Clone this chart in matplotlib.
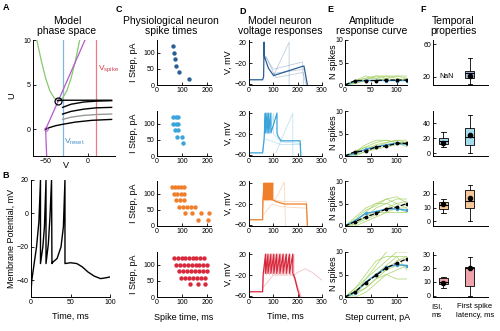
import matplotlib.pyplot as plt

plt.rcParams['font.family'] = ['Liberation Sans', 'DejaVu Sans']

# tamano de la figura en pixeles
W, H = 500, 331

# colores de cada fila (una neurona por fila)
colores = ['#2b5f94', '#3ba4da', '#ef7f2a', '#d8283b']
rellenos = ['#a9b3d3', '#a5dbeb', '#f6c79b', '#eda2ac']
verde = '#a3d160'

# ---------- A: espacio de fase ----------
nulclina_v_V = [-61, -55, -50, -45, -40, -35, -30, -25, -20, -15, -9.5]
nulclina_v_U = [10.2, 7.6, 5.7, 4.3, 3.5, 3.2, 3.5, 4.3, 5.7, 7.6, 10.1]
nulclina_u_V = [-48.8, -49.5, -50, -35, -3.5]
nulclina_u_U = [-3, -1.5, 0, 3.2, 10]
tray_V = [[-50, -45, -38, -30, -15, 5, 28],
          [-30, -20, -5, 10, 28],
          [-30, -20, -5, 10, 28],
          [-30, -20, -5, 10, 28],
          [-36, -30, -10, 10, 28]]
tray_U = [[0, 0.2, 0.4, 0.55, 0.8, 1.0, 1.1],
          [1.1, 1.35, 1.55, 1.65, 1.7],
          [1.7, 2.0, 2.25, 2.4, 2.45],
          [2.45, 2.8, 3.05, 3.15, 3.2],
          [3.2, 3.25, 3.25, 3.25, 3.25]]
tray_color = ['k', '#999999', 'k', 'k', 'k']
v_reset = -30
v_spike = 10

# ---------- B: potencial de membrana ----------
b_t = [0, 0.3, 1, 4, 7, 10, 12, 12, 15, 17, 19, 19, 22, 24, 26, 26.5,
       28, 33, 38, 41, 43, 43, 50, 58, 65, 72, 80, 88, 95, 100]
b_v = [-50, -45, -40, -30, -20, -5, 20, -30, -20, -8, 20, -30, -18, -2, 20, -30,
       -29, -27, -20, -8, 20, -30, -29.5, -30, -32, -35, -37.5, -39, -38.5, -38]

# ---------- C: tiempos de disparo fisiologicos ----------
c_corrientes = [120, 100, 80, 60, 40, 20]
c_tiempos = [
    [[65], [69], [72], [74], [88], [126]],
    [[65, 74, 85], [65, 74, 85], [72, 85], [81, 101], [105], []],
    [[59, 71, 83, 96, 108], [66, 80, 94, 108], [76, 92, 108],
     [87, 103, 120, 136, 152], [110, 138, 177, 207], [163, 204]],
    [[69, 84, 98, 113, 127, 142, 157, 171, 186],
     [76, 92, 107, 123, 138, 154, 169, 185, 200],
     [86, 102, 119, 135, 151, 168, 184, 200],
     [94, 111, 127, 144, 160, 177, 193],
     [131, 163, 193], []],
]

# ---------- D: respuestas de voltaje del modelo ----------
# (puntos antes, tiempos de pico, valle, puntos despues)
d_principal = [
    ([(0, -52), (56, -52), (60, -46)], [62], -5,
     [(68, -14), (80, -30), (101, -44), (222, -26), (226, -26), (240, -62)]),
    ([(0, -56), (56, -56), (62, -30)], [67, 74, 81, 90, 115], -18,
     [(120, -25), (132, -33), (210, -33), (213, -62)]),
    ([(0, -50), (56, -50), (57, -12)], [62, 67, 72, 77, 82, 87, 92, 97], -12,
     [(115, -16), (146, -20), (236, -20), (240, -62)]),
    ([(0, -52), (56, -52), (58, -20)], [68, 78, 90, 102, 114, 127, 140, 153, 166, 180], -17,
     [(188, -25), (198, -45), (209, -62)]),
]
d_tenues = [
    [([(100, -45)], [165], -62, []),
     ([(64, -5), (100, -32), (220, -18)], [], 0, [(225, -62)]),
     ([(100, -40), (222, -32)], [], 0, []),
     ([(70, -8), (110, -48), (222, -38)], [], 0, [(235, -62)])],
    [([(110, -56)], [180], -62, []),
     ([(56, -56), (60, -40)], [76, 84, 101], -20, [(130, -35), (210, -38), (214, -62)]),
     ([(70, -30), (130, -40), (210, -40)], [], 0, [])],
    [([(56, -30), (62, -10)], [66, 72, 78, 85, 92, 100], -14, [(110, -10), (145, 22), (150, -62)]),
     ([(97, -12), (140, -15), (236, -15)], [], 0, [(240, -62)]),
     ([(60, -40), (95, -20), (130, -25), (236, -28)], [], 0, [])],
    [([(56, -45), (60, -22)], [72, 84, 96, 108, 120, 132, 144, 156, 170, 185], -20,
      [(200, -15), (230, -8), (260, -15), (300, -30)]),
     ([(185, -20)], [], 0, [(215, -62)]),
     ([(56, -45), (100, -20), (180, -20)], [], 0, [(200, -45)])],
]

# ---------- E: curvas de respuesta ----------
e_corriente = [0, 20, 40, 60, 80, 100, 120]
e_modelo = [[0, 1, 1, 1, 1.1, 1.1, 1.1],
            [0, 1, 1.1, 2, 2.2, 2.8, 2.8],
            [0, 1, 2, 2.8, 3.8, 4.2, 5],
            [0, 1.2, 3.2, 4.8, 6.5, 7.5, 8.5]]
e_fisio = [[0, 0.8, 1, 1, 1, 1, 1],
           [0, 0.6, 1.5, 2, 2.5, 2.8, 2.6],
           [0, 1.2, 2.8, 3.2, 3.8, 3.8, 3.5],
           [0, 1, 3.3, 5, 6.6, 7.2, 7]]
e_verdes = [
    [[0, 1, 1.5, 2, 1.5, 1, 1.5], [0, 0.5, 1, 1, 1.5, 2, 2], [0, 1, 2, 1.5, 1, 1, 1],
     [0, 0.3, 1, 2, 2, 1.5, 1], [0, 1, 1, 1, 1, 1, 1], [0, 0.5, 1.5, 1.5, 2, 2, 1.5]],
    [[0, 0.5, 1.5, 2.5, 3, 3.5, 3], [0, 1, 2, 3, 3.5, 3, 2], [0, 0.3, 1, 2, 3, 3.5, 3.5],
     [0, 1, 2, 2, 2.5, 3, 3], [0, 0, 1, 1.5, 2, 2.5, 3], [0, 1, 2.5, 3.5, 3.5, 3, 3]],
    [[0, 1, 3, 5, 6, 5, 4], [0, 2, 4, 5, 5, 4, 3], [0, 0.5, 2, 4, 5, 6, 6],
     [0, 1, 2, 3, 3, 3, 3], [0, 0, 1, 2, 3, 4, 4], [0, 1.5, 3.5, 4.5, 6, 6.5, 5],
     [0, 0.5, 1.5, 2.5, 4, 5, 5.5]],
    [[0, 1, 4, 7, 10, 11, 10], [0, 2, 5, 8, 9, 9, 6], [0, 0.5, 2, 4, 6, 8, 9],
     [0, 1, 3, 5, 6, 7, 7], [0, 0, 1, 3, 5, 6, 7], [0, 2, 4, 6, 8, 10, 10],
     [0, 1, 2, 4, 5, 4, 4], [0, 1.5, 3, 5, 7, 9, 9]],
]

# ---------- F: propiedades temporales ----------
# [q1, mediana, q3, bigote bajo, bigote alto, media]; None = NaN
f_isi = [None,
         [12, 16, 19.6, 7.6, 28, 13.7],
         [8.9, 11.8, 14.3, 6.4, 16.3, 12.6],
         [8.6, 9.8, 12.6, 5.5, 13.8, 9]]
f_latencia = [[18.4, 25.2, 27.6, 11.5, 43, 21.6],
              [10.7, 21, 33, 0.4, 50.7, 24],
              [9.4, 14.6, 23.2, 0, 26.7, 16.8],
              [7, 20.5, 21, 0, 28, 20.5]]
f_ylim = [(10, 65), (-4, 56), (-3.5, 29.5), (-1, 32)]
f_yticks = [[20, 60], [0, 20, 40], [0, 10, 20], [0, 10, 20, 30]]

filas_top = [40, 111, 181, 252]
alto = 45


def caja(x0, y0, w, h):
    # caja en pixeles (izquierda, arriba) -> fraccion de figura
    return [x0 / W, 1 - (y0 + h) / H, w / W, h / H]


def estilo(ax):
    for s in ['top', 'right']:
        ax.spines[s].set_visible(False)
    for s in ['left', 'bottom']:
        ax.spines[s].set_linewidth(0.7)
    ax.tick_params(labelsize=5, length=2, width=0.6, pad=1.5, direction='in')


def traza(antes, picos, valle, despues):
    t = [p[0] for p in antes]
    v = [p[1] for p in antes]
    for p in picos:
        t += [p, p]
        v += [20, valle]
    t += [p[0] for p in despues]
    v += [p[1] for p in despues]
    return t, v


def texto(x, y, s, **kw):
    fig.text(x / W, 1 - y / H, s, **kw)


fig = plt.figure(figsize=(W / 100, H / 100), dpi=100)

# A
ax = fig.add_axes(caja(33, 40, 82, 116))
estilo(ax)
ax.axvline(v_reset, color='#7db9e3', lw=0.9)
ax.axvline(v_spike, color='#ec7b85', lw=0.9)
ax.plot(nulclina_v_V, nulclina_v_U, color='#86c96e', lw=0.9)
ax.plot(nulclina_u_V, nulclina_u_U, color='#b45ac8', lw=0.9)
for tv, tu, c in zip(tray_V, tray_U, tray_color):
    ax.plot(tv, tu, color=c, lw=1.0)
ax.plot([-36], [3.2], 'o', mfc='none', mec='k', ms=5, mew=0.9)
ax.plot([-50], [0], 'o', mfc='none', mec='#b45ac8', ms=2.5, mew=0.7)
ax.text(12, 6.6, r'V$_{\mathregular{spike}}$', color='#d33a4a', fontsize=6)
ax.text(-28, -1.6, r'V$_{\mathregular{reset}}$', color='#3a8cc9', fontsize=6)
ax.set_xlim(-65, 32)
ax.set_ylim(-3, 10)
ax.set_xticks([-50, 0])
ax.set_yticks([0, 5, 10])
texto(67, 26, 'Model\nphase space', fontsize=7.5, ha='center', va='center', linespacing=1.1)
texto(66, 166, 'V', fontsize=6.5, ha='center', va='center')
texto(12, 96, 'U', fontsize=6.5, ha='center', va='center', rotation=90)

# B
ax = fig.add_axes(caja(31, 180, 79, 117))
estilo(ax)
ax.plot(b_t, b_v, color='k', lw=1.0)
ax.set_xlim(0, 100)
ax.set_ylim(-50, 20)
ax.set_xticks([0, 50, 100])
ax.set_yticks([-40, -20, 0, 20])
texto(70, 316, 'Time, ms', fontsize=6.5, ha='center', va='center')
texto(11, 238, 'Membrane Potential, mV', fontsize=6.5, ha='center', va='center', rotation=90)

for i in range(4):
    top = filas_top[i]
    col = colores[i]

    # C
    ax = fig.add_axes(caja(157, top, 54, alto))
    estilo(ax)
    for cor, ts in zip(c_corrientes, c_tiempos[i]):
        ax.scatter(ts, [cor] * len(ts), s=10, color=col, linewidths=0)
    ax.set_xlim(0, 215)
    ax.set_ylim(0, 140)
    ax.set_xticks([0, 100, 200])
    ax.set_yticks([0, 50, 100])
    texto(133, top + 22, 'I Step, pA', fontsize=6.5, ha='center', va='center', rotation=90)

    # D
    ax = fig.add_axes(caja(249, top, 73, alto))
    estilo(ax)
    for tr in d_tenues[i]:
        t, v = traza(*tr)
        ax.plot(t, v, color=col, lw=0.6, alpha=0.3)
    t, v = traza(*d_principal[i])
    ax.plot(t, v, color=col, lw=0.9)
    ax.set_xlim(0, 300)
    ax.set_ylim(-62, 24)
    ax.set_xticks([0, 100, 200, 300])
    ax.set_yticks([-60, -20, 20])
    texto(228, top + 22, 'V, mV', fontsize=6.5, ha='center', va='center', rotation=90)

    # E
    ax = fig.add_axes(caja(345, top, 62, alto))
    estilo(ax)
    for g in e_verdes[i]:
        ax.plot(e_corriente, g, color=verde, lw=0.6, alpha=0.8)
    ax.plot(e_corriente, e_fisio[i], color='#3f9fd8', lw=1.0, marker='.', ms=3)
    ax.plot(e_corriente, e_modelo[i], color='k', lw=0.9, ls='--', marker='.', ms=3.5)
    ax.set_xlim(0, 120)
    ax.set_ylim(0, 10)
    ax.set_xticks([0, 50, 100])
    ax.set_yticks([0, 5, 10])
    texto(333, top + 22, 'N spikes', fontsize=6.5, ha='center', va='center', rotation=90)

    # F
    ax = fig.add_axes(caja(433, top, 55, alto))
    estilo(ax)
    stats = []
    pos = []
    for p, d in [(1, f_isi[i]), (2, f_latencia[i])]:
        if d is None:
            ax.text(p + 0.1, 20, 'NaN', fontsize=5, ha='center', va='center')
            continue
        stats.append({'q1': d[0], 'med': d[1], 'q3': d[2], 'whislo': d[3],
                      'whishi': d[4], 'mean': d[5]})
        pos.append(p)
    ax.bxp(stats, positions=pos, widths=0.32, patch_artist=True, showmeans=True,
           showfliers=False,
           boxprops=dict(facecolor=rellenos[i], edgecolor='k', linewidth=0.6),
           medianprops=dict(color='k', linewidth=0.8),
           whiskerprops=dict(color='k', linewidth=0.6),
           capprops=dict(color='k', linewidth=0.6),
           meanprops=dict(marker='o', markerfacecolor='k', markeredgecolor='k', markersize=3))
    ax.set_xlim(0.6, 2.7)
    ax.set_ylim(*f_ylim[i])
    ax.set_yticks(f_yticks[i])
    ax.set_xticks([])

# etiquetas de F debajo de la ultima fila
texto(437, 311, 'ISI,\nms', fontsize=5.5, ha='center', va='center', linespacing=1.3)
texto(475, 311, 'First spike\nlatency, ms', fontsize=5.5, ha='center', va='center', linespacing=1.3)

# titulos y etiquetas
texto(171, 26, 'Physiological neuron\nspike times', fontsize=7.5, ha='center', va='center', linespacing=1.1)
texto(280, 26, 'Model neuron\nvoltage responses', fontsize=7.5, ha='center', va='center', linespacing=1.1)
texto(372, 26, 'Amplitude\nresponse curve', fontsize=7.5, ha='center', va='center', linespacing=1.1)
texto(453, 26, 'Temporal\nproperties', fontsize=7.5, ha='center', va='center', linespacing=1.1)
texto(184, 317, 'Spike time, ms', fontsize=6.5, ha='center', va='center')
texto(285, 316, 'Time, ms', fontsize=6.5, ha='center', va='center')
texto(378, 318, 'Step current, pA', fontsize=6.5, ha='center', va='center')

for letra, x, y in [('A', 6, 7), ('B', 6, 176), ('C', 119, 10), ('D', 243, 12),
                    ('E', 330, 10), ('F', 423, 10)]:
    texto(x, y, letra, fontsize=6.5, fontweight='bold', ha='center', va='center')

fig.savefig('out.png', dpi=100)
